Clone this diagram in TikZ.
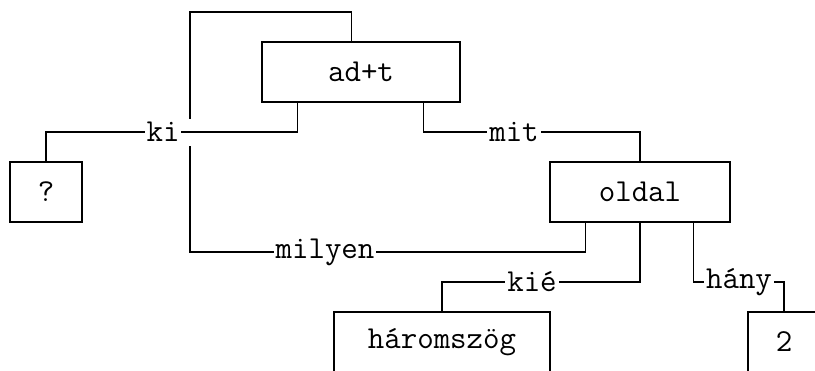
\documentclass[tikz,border=0pt]{standalone}
\usetikzlibrary{positioning}
\begin{document}
\begin{tikzpicture}[x=9pt, y=-15pt, line width=0.75pt,
    every node/.style={font=\fontsize{16}{16}\selectfont\ttfamily}]
  \useasboundingbox (-0.5556,-0.4) rectangle (44.7222,11.9333);
  % boxes
  \begin{scope}[every node/.append style={draw, inner sep=0pt, minimum height=30pt}]
    \node[minimum width=99pt] (adt) at (19.5,2) {ad+t};
    \node[minimum width=36pt] (q) at (2,6) {?};
    \node[minimum width=90pt] (oldal) at (35,6) {oldal};
    \node[minimum width=108pt] (harom) at (24,11) {háromszög};
    \node[minimum width=36pt] (two) at (43,11) {2};
  \end{scope}
  % labelled links
  \begin{scope}[every node/.append style={fill=white, inner xsep=1pt, inner ysep=1pt}]
    \draw ([xshift=45pt]adt.north west) |- (10,0) |- (17.5,8) node (milyen) {milyen}
      -| ([xshift=18pt]oldal.south west);
    \fill[white] (9.6,3.55) rectangle (10.4,4.45);
    \draw ([xshift=18pt]adt.south west) |- (8.5,4) node (ki) {ki} -| (q.north);
    \draw ([xshift=81pt]adt.south west) |- (28,4) node (mit) {mit} -| (oldal.north);
    \draw (oldal.south) |- (29,9) node (kie) {kié} -| (harom.north);
    \draw ([xshift=72pt]oldal.south west) |- (40.5,9) node (hany) {hány} -| (two.north);
  \end{scope}
\end{tikzpicture}
\end{document}
